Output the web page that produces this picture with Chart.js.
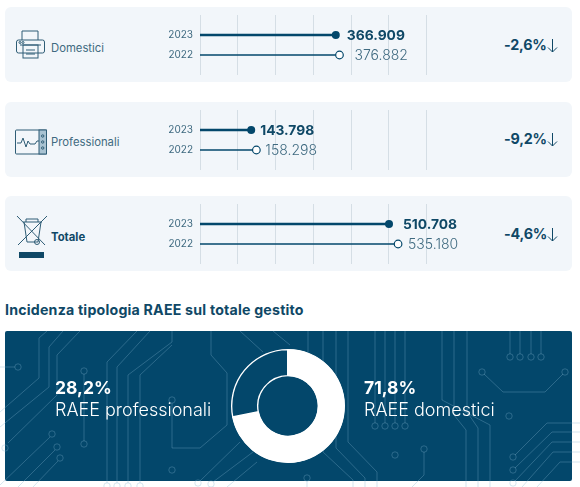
<!DOCTYPE html>
<html lang="it">
<head>
<meta charset="utf-8">
<title>RAEE gestiti</title>
<script src="https://cdn.jsdelivr.net/npm/chart.js@4"></script>
<style>
  html, body { margin: 0; padding: 0; background: #fff; }
  body { width: 580px; height: 487px; position: relative; overflow: hidden; font-family: Inter, "Noto Sans", sans-serif; color: #0f4866; }
  .abs { position: absolute; }
  .panel { position: absolute; left: 5px; width: 567px; height: 75px; background: #f2f6fa; border-radius: 6px; }
  .cat { position: absolute; left: 51px; font-size: 11.3px; line-height: 14px; color: #3f6a80; white-space: nowrap; }
  .cat.total { font-weight: 700; color: #0f4866; }
  .delta { position: absolute; left: 504px; font-size: 14.3px; line-height: 18px; font-weight: 700; letter-spacing: -0.2px; white-space: nowrap; }
  .delta svg { position: absolute; left: 43px; top: 2px; }
  h2 { position: absolute; left: 5px; top: 301px; margin: 0; font-size: 14.2px; letter-spacing: 0.2px; line-height: 18px; font-weight: 700; white-space: nowrap; }
  #dark { position: absolute; left: 5px; top: 331px; width: 567px; height: 150px; background: #03476b; border-radius: 2px; }
  #traces { position: absolute; left: 0; top: 0; }
  canvas { position: absolute; }
  .share { position: absolute; color: #fff; white-space: nowrap; }
  .share b { display: block; font-size: 17.5px; line-height: 22px; font-weight: 700; }
  .share span { display: block; font-size: 18px; line-height: 22px; font-weight: 300; }
</style>
</head>
<body>

<div class="panel" style="top:7px"></div>
<div class="panel" style="top:102px"></div>
<div class="panel" style="top:196px"></div>

<!-- icone -->
<svg class="abs" style="left:15px;top:29px" width="32" height="32" viewBox="0 0 32 32" fill="none" stroke="#2f5d76" stroke-width="1">
  <path d="M7 11V2h16v9"/>
  <rect x="1.5" y="11" width="28" height="13" rx="2"/>
  <path d="M5 16h21"/>
  <rect x="8" y="16" width="15" height="13"/>
  <path d="M11 21h9M11 25h9"/>
  <circle cx="5" cy="13.5" r="1"/><circle cx="8" cy="13.5" r="1"/>
</svg>
<svg class="abs" style="left:15px;top:129px" width="32" height="26" viewBox="0 0 32 26" fill="none" stroke="#2f5d76" stroke-width="1">
  <rect x="0.5" y="1" width="31" height="24" rx="1"/>
  <path d="M2 14h4l2-5 3 9 2-6 2 3h5l2-3h3"/>
  <rect x="24" y="1" width="7.5" height="24" fill="#a9c3d2"/>
  <circle cx="27.7" cy="7" r="1.2"/><circle cx="27.7" cy="13" r="1.2"/><circle cx="27.7" cy="19" r="1.2"/>
</svg>
<svg class="abs" style="left:15px;top:214px" width="34" height="46" viewBox="0 0 34 46" fill="none" stroke="#2f5d76" stroke-width="1">
  <path d="M2 2l28 29M32 2L3 31"/>
  <path d="M8 8h19M11 8V5h12v3M9 8l3 20h11l3-20"/>
  <circle cx="22" cy="28" r="2.5"/>
  <rect x="4" y="38" width="25" height="6" fill="#0f4866" stroke="none"/>
</svg>

<div class="cat" style="top:41px">Domestici</div>
<div class="cat" style="top:135px">Professionali</div>
<div class="cat total" style="top:230px">Totale</div>

<canvas id="chartDomestici" style="left:150px;top:2px" width="320" height="86"></canvas>
<canvas id="chartProfessionali" style="left:150px;top:97px" width="320" height="86"></canvas>
<canvas id="chartTotale" style="left:150px;top:191px" width="320" height="86"></canvas>

<div class="delta" id="delta0" style="top:36px"></div>
<div class="delta" id="delta1" style="top:130px"></div>
<div class="delta" id="delta2" style="top:225px"></div>

<h2>Incidenza tipologia RAEE sul totale gestito</h2>

<div id="dark"></div>
<svg id="traces" width="580" height="487" fill="none" stroke="rgba(130,180,205,0.33)" stroke-width="1"></svg>

<canvas id="chartQuota" style="left:222px;top:340px" width="132" height="132"></canvas>

<div class="share" id="shareProf" style="left:55px;top:377px"></div>
<div class="share" id="shareDom" style="left:364px;top:377px"></div>

<script>
// Tonnellate per tipologia
const categories = ["Domestici", "Professionali", "Totale"];
const yearLabels = ["", "2023", "2022", ""];
const values2023 = [366909, 143798, 510708];
const values2022 = [376882, 158298, 535180];
const changes = ["-2,6%", "-9,2%", "-4,6%"];

// Incidenza sul totale gestito
const shareLabels = ["RAEE domestici", "RAEE professionali"];
const shareValues = [71.8, 28.2];

const navy = "#03476b";
const grey = "#3f6a80";

const canvasIds = ["chartDomestici", "chartProfessionali", "chartTotale"];
const axisMax = [612000, 636000, 612000];
const labelGaps = [[11, 15], [9, 9], [14, 10]];

function formatThousands(v) {
  return String(v).replace(/\B(?=(\d{3})+$)/g, ".");
}

// Etichette di valore a destra dei marker
const valueLabels = {
  id: "valueLabels",
  afterDatasetsDraw(chart, args, opts) {
    const c = chart.ctx;
    c.save();
    c.textBaseline = "middle";
    chart.data.datasets.forEach((ds, i) => {
      const pt = chart.getDatasetMeta(i).data[1];
      c.font = (i === 0 ? "700 13.8px " : "300 14px ") + "Inter, sans-serif";
      c.fillStyle = i === 0 ? "#0f4866" : grey;
      c.fillText(formatThousands(ds.data[1].x), pt.x + opts.gaps[i], pt.y + 0.5);
    });
    c.restore();
  }
};

function rowDataset(year, value, thick) {
  return {
    label: year,
    data: [{ x: 0, y: year }, { x: value, y: year }],
    showLine: true,
    borderColor: navy,
    borderWidth: thick ? 2.5 : 1.6,
    pointRadius: [0, thick ? 4 : 3.8],
    pointBorderColor: navy,
    pointBorderWidth: thick ? 0 : 1.2,
    pointBackgroundColor: thick ? navy : "#fff"
  };
}

categories.forEach((name, i) => {
  new Chart(document.getElementById(canvasIds[i]), {
    type: "scatter",
    data: {
      datasets: [
        rowDataset("2023", values2023[i], true),
        rowDataset("2022", values2022[i], false)
      ]
    },
    options: {
      responsive: false,
      animation: false,
      layout: { padding: { right: 43.5 } },
      plugins: {
        legend: { display: false },
        tooltip: { enabled: false },
        valueLabels: { gaps: labelGaps[i] }
      },
      scales: {
        x: {
          type: "linear",
          min: 0,
          max: axisMax[i],
          ticks: { display: false, stepSize: axisMax[i] / 6 },
          grid: { color: "#d5dee5", drawTicks: false },
          border: { display: false }
        },
        y: {
          type: "category",
          labels: yearLabels,
          afterFit(scale) { scale.width = 50; },
          ticks: { color: grey, font: { family: "Inter, sans-serif", size: 10 }, padding: 7 },
          grid: { display: false, drawTicks: false },
          border: { display: false }
        }
      }
    },
    plugins: [valueLabels]
  });

  const delta = document.getElementById("delta" + i);
  delta.innerHTML = changes[i] +
    '<svg width="11" height="16" viewBox="0 0 11 16" fill="none" stroke="#0f4866" stroke-width="1"><path d="M5.5 1v13M1 9.5l4.5 4.5L10 9.5"/></svg>';
});

// Ciambella: quota domestici piena, quota professionali solo contornata
new Chart(document.getElementById("chartQuota"), {
  type: "doughnut",
  data: {
    labels: shareLabels,
    datasets: [{
      data: shareValues,
      backgroundColor: ["#fff", "rgba(255,255,255,0)"],
      borderColor: "#fff",
      borderWidth: 1,
      borderAlign: "inner"
    }]
  },
  options: {
    responsive: false,
    animation: false,
    cutout: "52%",
    radius: 57,
    plugins: { legend: { display: false }, tooltip: { enabled: false } }
  }
});

function shareHtml(idx) {
  return "<b>" + String(shareValues[idx]).replace(".", ",") + "%</b><span>" + shareLabels[idx] + "</span>";
}
document.getElementById("shareDom").innerHTML = shareHtml(0);
document.getElementById("shareProf").innerHTML = shareHtml(1);

// Piste del circuito stampato sullo sfondo
const tracePaths = [
  "M47 331L39 338V378L0 412", "M63 331L49 347V387L0 427", "M80 331L57 355V395L8 443",
  "M0 367H15", "M50 437L0 485", "M55 450L18 487", "M58 461L33 487", "M84 374V441",
  "M137 331L107 362V483", "M150 331L117 367V483", "M172 331V342L128 375V483", "M172 345L140 375V483",
  "M211 331V355L227 373V425L200 448H172V403", "M240 442L200 481", "M253 452L213 482", "M257 462L227 487",
  "M240 331L263 352", "M273 331L290 345",
  "M308 331V385", "M323 331V452L353 480V487", "M336 331V448L365 478V487", "M348 331V442L377 472V487",
  "M375 331V423", "M385 331V423", "M395 331V423", "M405 331V423",
  "M442 331V400L490 425V487", "M454 331V415L466 430V487", "M467 331V412L478 428V487",
  "M510 331V354", "M520 331V354", "M531 331V354", "M541 331V354",
  "M484 374L503 392H545L563 374", "M424 452V475L412 487", "M307 481V487",
  "M515 455L547 423H580", "M515 468L552 432H580", "M515 481L552 442H580", "M522 487L553 452H580", "M537 487L560 462H580"
];
const traceDots = [
  [18, 367], [5, 448], [52, 434], [57, 447], [60, 458], [84, 371], [84, 444], [172, 400], [172, 470],
  [107, 486], [117, 486], [128, 486], [140, 486], [198, 483], [211, 484],
  [375, 426], [385, 426], [395, 426], [405, 426], [395, 455], [424, 449], [307, 478],
  [510, 357], [520, 357], [531, 357], [541, 357], [482, 372], [565, 372], [509, 416],
  [513, 457], [513, 470], [513, 483]
];
const traces = document.getElementById("traces");
traces.innerHTML =
  tracePaths.map(d => '<path d="' + d + '"/>').join("") +
  traceDots.map(p => '<circle cx="' + p[0] + '" cy="' + p[1] + '" r="3.2"/>').join("");
</script>
</body>
</html>
